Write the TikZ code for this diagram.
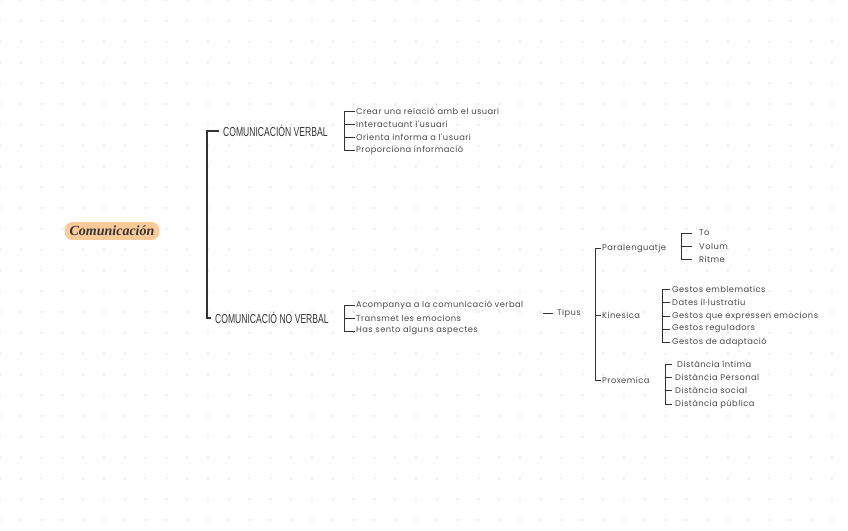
\documentclass[tikz,border=0pt]{standalone}
\usepackage{fontspec}
\usetikzlibrary{positioning}
\newfontfamily\leaffont[LetterSpace=5.5]{Poppins}
\newfontfamily\headfont[FakeStretch=0.66]{Liberation Sans}
\newfontfamily\rootfont{Liberation Serif}
\definecolor{inkc}{HTML}{333333}
\definecolor{dotc}{HTML}{D8D8D8}
\definecolor{glowc}{HTML}{FDCB98}
\tikzset{
  root/.style={fill=glowc, rounded corners=8pt, inner xsep=5pt, inner ysep=4pt, font=\rootfont\bfseries\itshape\fontsize{14}{16}\selectfont, text=inkc},
  head/.style={anchor=west, inner ysep=1pt, inner xsep=4pt, font=\headfont\fontsize{13}{15}\selectfont, text=inkc},
  leaf/.style={anchor=west, inner sep=1pt, font=\leaffont\fontsize{8.3}{10}\selectfont, text=inkc!90},
  trunk/.style={draw=inkc, line width=1.3pt},
  brk/.style={draw=inkc, line width=0.9pt},
}

\begin{document}
\begin{tikzpicture}[x=1pt, y=-1pt]
\useasboundingbox (0,0) rectangle (848,530);

% Dot grid
\foreach \i in {0,...,40}
  \foreach \j in {0,...,25}
    \fill[dotc] (\i*20.8, \j*20.8) circle (0.9);

% Root
\node[root] (com) at (112,231) {Comunicación};

% Main branches
\node[head] (cv) at (219,131) {COMUNICACIÓN VERBAL};
\node[head] (cnv) at (211,318) {COMUNICACIÓ NO VERBAL};
\draw[trunk] (cv.west) -- ++(-12,0) |- (cnv.west);

% Verbal
\node[leaf] (v1) at (355,111) {Crear una relació amb el usuari};
\node[leaf] (v2) at (355,124) {Interactuant l'usuari};
\node[leaf] (v3) at (355,137) {Orienta informa a l'usuari};
\node[leaf] (v4) at (355,150) {Proporciona informació};
\draw[brk] (v1.west) -- ++(-11,0) |- (v4.west);
\foreach \n in {v2,v3}
  \draw[brk] (\n.west) -- ++(-11,0);

% No verbal
\node[leaf] (n1) at (355,305) {Acompanya a la comunicació verbal};
\node[leaf] (n2) at (355,318) {Transmet les emocions};
\node[leaf] (n3) at (355,331) {Has sento alguns aspectes};
\draw[brk] (n1.west) -- ++(-11,0) |- (n3.west);
\draw[brk] (n2.west) -- ++(-11,0);

% Tipus
\node[leaf] (tip) at (556,313) {Tipus};
\draw[brk] ([xshift=-3pt]tip.west) -- ++(-10,0) coordinate (tipin);

\node[leaf] (par) at (601,248) {Paralenguatje};
\node[leaf] (kin) at (601,315) {Kinesica};
\node[leaf] (pro) at (601,380) {Proxemica};
\draw[brk] (par.west) -- ++(-6,0) |- (pro.west);
\draw[brk] (kin.west) -- ++(-6,0);

% Paralenguatje
\node[leaf] (pa1) at (698,233) {To};
\node[leaf] (pa2) at (698,246) {Volum};
\node[leaf] (pa3) at (698,259) {Ritme};
\draw[brk] ([xshift=-6pt]pa1.west) -- ++(-11,0) |- ([xshift=-6pt]pa3.west);
\draw[brk] ([xshift=-6pt]pa2.west) -- ++(-11,0);

% Kinesica
\node[leaf] (k1) at (671,289) {Gestos emblematics};
\node[leaf] (k2) at (671,302) {Dates il·lustratiu};
\node[leaf] (k3) at (671,316) {Gestos que expressen emocions};
\node[leaf] (k4) at (671,329) {Gestos reguladors};
\node[leaf] (k5) at (671,342) {Gestos de adaptació};
\draw[brk] ([xshift=-1pt]k1.west) -- ++(-8,0) |- ([xshift=-1pt]k5.west);
\foreach \n in {k2,k3,k4}
  \draw[brk] ([xshift=-1pt]\n.west) -- ++(-8,0);

% Proxemica
\node[leaf] (x1) at (676,364) {Distància íntima};
\node[leaf] (x2) at (674,377) {Distància Personal};
\node[leaf] (x3) at (674,390) {Distància social};
\node[leaf] (x4) at (674,404) {Distància pública};
\draw[brk] ([xshift=-4pt]x1.west) -- ++(-7,0) |- ([xshift=-2pt]x4.west);
\foreach \n in {x2,x3}
  \draw[brk] ([xshift=-2pt]\n.west) -- ++(-7,0);

\end{tikzpicture}
\end{document}
